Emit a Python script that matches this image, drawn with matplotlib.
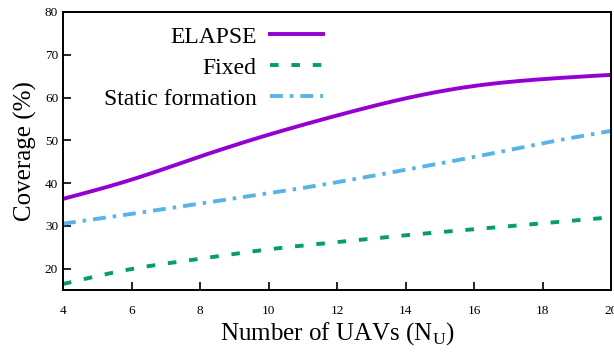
import numpy as np
import matplotlib
matplotlib.use('Agg')
import matplotlib.pyplot as plt

plt.rcParams['font.family'] = ['Liberation Serif', 'DejaVu Serif']
plt.rcParams['mathtext.fontset'] = 'custom'
plt.rcParams['mathtext.rm'] = 'Liberation Serif'

# data
uavs = [4, 6, 8, 10, 12, 14, 16, 18, 20]
elapse = [36.3, 40.8, 46.2, 51.3, 55.8, 59.8, 62.7, 64.3, 65.3]
fixed = [16.4, 19.9, 22.3, 24.5, 26.2, 27.8, 29.2, 30.6, 32.0]
static = [30.5, 32.8, 35.2, 37.6, 40.2, 43.1, 46.1, 49.3, 52.2]


def spline(x, y, n=200):
    # natural cubic spline through the read points
    x = np.asarray(x, float)
    y = np.asarray(y, float)
    k = len(x)
    h = np.diff(x)
    A = np.zeros((k, k))
    b = np.zeros(k)
    A[0, 0] = A[-1, -1] = 1
    for i in range(1, k - 1):
        A[i, i - 1] = h[i - 1]
        A[i, i] = 2 * (h[i - 1] + h[i])
        A[i, i + 1] = h[i]
        b[i] = 6 * ((y[i + 1] - y[i]) / h[i] - (y[i] - y[i - 1]) / h[i - 1])
    m = np.linalg.solve(A, b)
    xs = np.linspace(x[0], x[-1], n)
    j = np.clip(np.searchsorted(x, xs) - 1, 0, k - 2)
    t0 = x[j + 1] - xs
    t1 = xs - x[j]
    hj = h[j]
    ys = (m[j] * t0**3 + m[j + 1] * t1**3) / (6 * hj) \
        + (y[j] / hj - m[j] * hj / 6) * t0 + (y[j + 1] / hj - m[j + 1] * hj / 6) * t1
    return xs, ys


fig = plt.figure(figsize=(6.14, 3.54), dpi=100)
ax = fig.add_axes([63/614, 1-290/354, 548/614, 278/354])

ax.plot(*spline(uavs, elapse), color='#9400D3', lw=2.8, label='ELAPSE')
ax.plot(*spline(uavs, fixed), color='#009E73', lw=2.8, ls=(0, (2.2, 3.3)), label='Fixed')
ax.plot(*spline(uavs, static), color='#56B4E9', lw=2.8, ls=(0, (3.3, 1.8, 0.9, 1.8)),
        label='Static formation')

ax.set_xlim(4, 20)
ax.set_ylim(15, 80)
ax.set_xticks(uavs)
ax.set_yticks([20, 30, 40, 50, 60, 70, 80])
ax.tick_params(direction='in', length=6, width=1.2, labelsize=9.5, top=False, right=False)
ax.tick_params(axis='x', pad=11)
for s in ax.spines.values():
    s.set_linewidth(1.4)

ax.set_xlabel('Number of UAVs (N$_\\mathrm{U}$)', fontsize=18, labelpad=2)
ax.set_ylabel('Coverage (%)', fontsize=18, labelpad=6)

ax.legend(loc='upper right', bbox_to_anchor=(0.5, 1.0), frameon=False,
          markerfirst=False, fontsize=17, handlelength=2.25, labelspacing=0.4,
          handletextpad=0.55, borderaxespad=0.2)

fig.savefig('out.png', dpi=100)
